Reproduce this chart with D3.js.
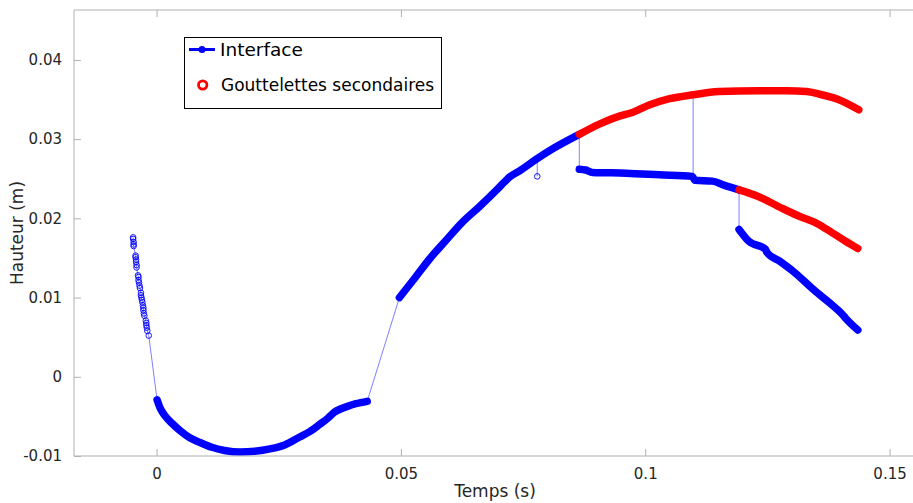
<!DOCTYPE html>
<html><head><meta charset="utf-8">
<script src="https://cdn.jsdelivr.net/npm/d3@7"></script>
<style>body{margin:0;background:#fff}svg{display:block}text{font-family:"DejaVu Sans",sans-serif}</style>
</head><body><svg id="c" width="913" height="503"></svg>
<script>
// ---- data (time s, height m) ----
const xTicks = [0, 0.05, 0.1, 0.15];
const xTickLabels = ["0", "0.05", "0.1", "0.15"];
const yTicks = [-0.01, 0, 0.01, 0.02, 0.03, 0.04];
const yTickLabels = ["-0.01", "0", "0.01", "0.02", "0.03", "0.04"];

// early sparse interface detections (open circles)
const earlyT = [-0.0048,-0.0048,-0.0047,-0.0047,-0.0047,
  -0.0043,-0.0043,-0.0042,-0.0042,-0.0041,-0.0041,
  -0.0038,-0.0037,-0.0037,-0.0036,-0.0035,-0.0034,
  -0.0032,-0.0032,-0.0031,-0.0030,-0.0029,-0.0028,-0.0027,-0.0027,-0.0026,-0.0025,
  -0.0022,-0.0021,-0.0021,-0.0020,-0.0019,-0.0016];
const earlyH = [0.0176,0.0174,0.0170,0.0167,0.0165,
  0.0153,0.0151,0.0148,0.0145,0.0141,0.0138,
  0.0128,0.0126,0.0122,0.0119,0.0115,0.0112,
  0.0106,0.0103,0.0100,0.0097,0.0094,0.0090,0.0087,0.0084,0.0080,0.0077,
  0.0071,0.0068,0.0065,0.0062,0.0058,0.0052];

// interface: dip after impact
const dipT = [0.0001,0.0007,0.0017,0.0032,0.0048,0.0068,0.0089,0.0113,0.0139,0.0171,0.0201,0.0232,0.0262,0.0293,0.0314,0.0334,0.0351,0.0363,0.0375,0.0392,0.0408,0.0431];
const dipH = [-0.0029,-0.0039,-0.0049,-0.0059,-0.0068,-0.0077,-0.0083,-0.0089,-0.0093,-0.0095,-0.0094,-0.0091,-0.0086,-0.0076,-0.0069,-0.0060,-0.0052,-0.0045,-0.0041,-0.0037,-0.0034,-0.0031];

// interface: rising jet
const riseT = [0.0497,0.0529,0.0559,0.0592,0.0624,0.0661,0.0696,0.0712,0.0722,0.0743,0.0778,0.0814,0.0865];
const riseH = [0.0100,0.0125,0.0149,0.0172,0.0194,0.0215,0.0236,0.0246,0.0252,0.0260,0.0275,0.0289,0.0306];

// interface: after first pinch-off
const low1T = [0.0865,0.0878,0.0892,0.0961,0.1029,0.1096,0.1102,0.1137,0.1161,0.1192];
const low1H = [0.0262,0.0261,0.0258,0.0257,0.0255,0.0253,0.0248,0.0247,0.0242,0.0236];

// interface: after second pinch-off
const low2T = [0.1192,0.1212,0.1246,0.1249,0.1275,0.1301,0.1348,0.1378,0.1403,0.1410,0.1435];
const low2H = [0.0186,0.0171,0.0161,0.0157,0.0146,0.0134,0.0108,0.0093,0.0079,0.0074,0.0059];

// secondary droplets
const drop1T = [0.0865,0.0906,0.0947,0.0975,0.1008,0.1050,0.1098,0.1150,0.1233,0.1290,0.1330,0.1355,0.1395,0.1437];
const drop1H = [0.0306,0.0319,0.0329,0.0334,0.0343,0.0351,0.0356,0.0360,0.0361,0.0361,0.0360,0.0357,0.0350,0.0337];
const drop2T = [0.1192,0.1230,0.1279,0.1314,0.1350,0.1382,0.1410,0.1435];
const drop2H = [0.0236,0.0228,0.0213,0.0203,0.0194,0.0182,0.0171,0.0162];

// isolated detection and jumps between branches
const strayT = [0.0779], strayH = [0.0253];
const jumpT  = [0.0431, 0.0779, 0.0865, 0.1098, 0.1192];
const jumpT2 = [0.0497, 0.0779, 0.0865, 0.1098, 0.1192];
const jumpH1 = [-0.0031, 0.0275, 0.0306, 0.0356, 0.0236];
const jumpH2 = [0.0100, 0.0253, 0.0262, 0.0253, 0.0186];

// ---- drawing ----
const svg = d3.select("#c");
const L = 74, R = 914, T = 10, B = 456;
const x = d3.scaleLinear().domain([-0.0169, 0.155]).range([L, R]);
const y = d3.scaleLinear().domain([-0.01, 0.0463]).range([B, T]);
const axisCol = "#b0b0b0", txtCol = "#262626";
const blue = "#0000ff", red = "#ff0000", thin = "#7070ff";

const zip = (a, b) => a.map((v, i) => [v, b[i]]);
const line = d3.line().x(d => x(d[0])).y(d => y(d[1]));
const smooth = d3.line().x(d => x(d[0])).y(d => y(d[1])).curve(d3.curveMonotoneX);

const g = svg.append("g");
const early = zip(earlyT, earlyH).concat([[dipT[0], dipH[0]]]);
g.append("path").attr("d", line(early)).attr("fill", "none").attr("stroke", thin).attr("stroke-width", 0.9);
jumpT.forEach((t, i) => {
  g.append("path").attr("d", line([[t, jumpH1[i]], [jumpT2[i], jumpH2[i]]]))
    .attr("fill", "none").attr("stroke", thin).attr("stroke-width", 0.9);
});
g.selectAll("circle.early").data(zip(earlyT, earlyH).concat(zip(strayT, strayH))).enter().append("circle")
  .attr("cx", d => x(d[0])).attr("cy", d => y(d[1])).attr("r", 2.8)
  .attr("fill", "none").attr("stroke", blue).attr("stroke-width", 0.9);

function thick(ts, hs, col) {
  g.append("path").attr("d", smooth(zip(ts, hs))).attr("fill", "none")
    .attr("stroke", col).attr("stroke-width", 7.5).attr("stroke-linecap", "round").attr("stroke-linejoin", "round");
}
thick(dipT, dipH, blue);
thick(riseT, riseH, blue);
thick(low1T, low1H, blue);
thick(low2T, low2H, blue);
thick(drop1T, drop1H, red);
thick(drop2T, drop2H, red);

// axes
const ax = svg.append("g");
ax.append("line").attr("x1", L).attr("x2", L).attr("y1", T).attr("y2", B).attr("stroke", axisCol);
ax.append("line").attr("x1", L).attr("x2", 913).attr("y1", B).attr("y2", B).attr("stroke", axisCol);
ax.append("line").attr("x1", L).attr("x2", 913).attr("y1", T).attr("y2", T).attr("stroke", axisCol);

const xa = d3.axisBottom(x).tickValues(xTicks).tickFormat((d, i) => xTickLabels[i]).tickSizeInner(-7).tickSizeOuter(0).tickPadding(12);
const gx = svg.append("g").attr("transform", `translate(0,${B})`).call(xa);
gx.select(".domain").remove();
gx.selectAll("line").attr("stroke", axisCol);
gx.selectAll("text").attr("fill", txtCol).style("font-size", "15px");
const xt = d3.axisTop(x).tickValues(xTicks).tickFormat("").tickSizeInner(-7).tickSizeOuter(0);
const gxt = svg.append("g").attr("transform", `translate(0,${T})`).call(xt);
gxt.select(".domain").remove();
gxt.selectAll("line").attr("stroke", axisCol);

const ya = d3.axisLeft(y).tickValues(yTicks).tickFormat((d, i) => yTickLabels[i]).tickSizeInner(-7).tickSizeOuter(0).tickPadding(12);
const gy = svg.append("g").attr("transform", `translate(${L},0)`).call(ya);
gy.select(".domain").remove();
gy.selectAll("line").attr("stroke", axisCol);
gy.selectAll("text").attr("fill", txtCol).style("font-size", "15px");

svg.append("text").attr("x", 495).attr("y", 497).attr("text-anchor", "middle")
  .attr("fill", txtCol).style("font-size", "17px").text("Temps (s)");
svg.append("text").attr("transform", `translate(23,${(T + B) / 2}) rotate(-90)`).attr("text-anchor", "middle")
  .attr("fill", txtCol).style("font-size", "17px").text("Hauteur (m)");

// legend
const lg = svg.append("g");
lg.append("rect").attr("x", 184.5).attr("y", 37.5).attr("width", 257).attr("height", 71)
  .attr("fill", "#fff").attr("stroke", "#000").attr("stroke-width", 1);
lg.append("line").attr("x1", 189).attr("x2", 215).attr("y1", 49.5).attr("y2", 49.5).attr("stroke", blue).attr("stroke-width", 3);
lg.append("circle").attr("cx", 202).attr("cy", 49.5).attr("r", 3.5).attr("fill", blue);
lg.append("text").attr("x", 220).attr("y", 56).attr("fill", "#000").style("font-size", "18.5px").text("Interface");
lg.append("circle").attr("cx", 202.7).attr("cy", 85).attr("r", 4.2).attr("fill", "none").attr("stroke", red).attr("stroke-width", 2.8);
lg.append("text").attr("x", 221).attr("y", 91).attr("fill", "#000").style("font-size", "17px").text("Gouttelettes secondaires");
</script></body></html>
